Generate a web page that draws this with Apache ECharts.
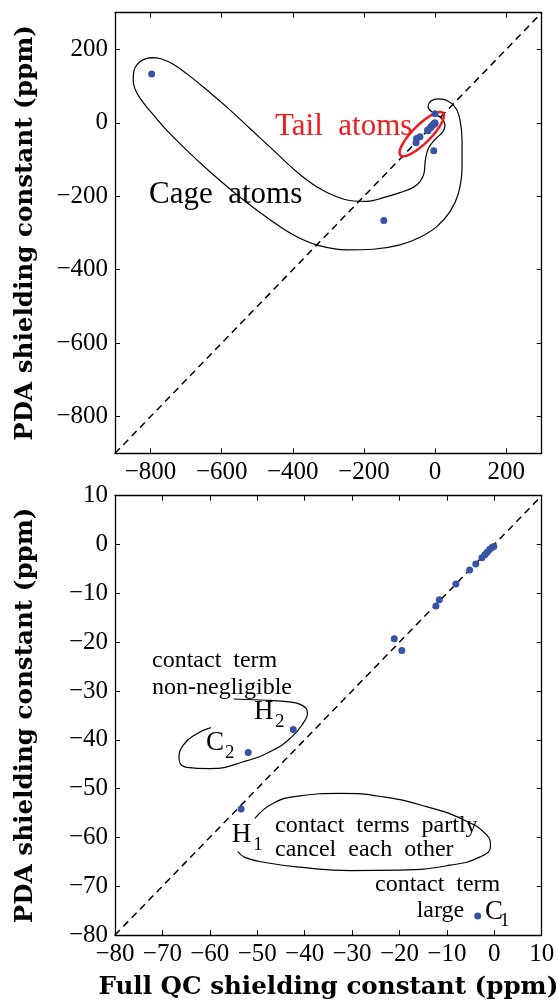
<!DOCTYPE html>
<html>
<head>
<meta charset="utf-8">
<script src="https://cdn.jsdelivr.net/npm/echarts@6/dist/echarts.min.js"></script>
<style>html,body{margin:0;padding:0;background:#fff}#c{width:558px;height:1005px}</style>
</head>
<body>
<div id="c"></div>
<script>
// ---- data (Full QC vs PDA shielding constants, ppm) ----
const fullQC = [-0.1, -0.5, -1.0, -1.5, -2.0, -2.6, -3.9, -5.2, -8.1, -11.6, -12.3, -21.1, -19.5, -42.4, -51.9, -53.4, -3.5];
const pda    = [-0.4, -0.6, -1.0, -1.6, -2.1, -2.7, -4.0, -5.2, -8.1, -11.3, -12.6, -19.3, -21.7, -37.9, -42.6, -54.2, -76.1];
// cage atoms with large shielding (only visible in the wide panel)
const cageQC  = [-797, -144, 0];
const cagePDA = [133, -266, 25];

const topTicks = [-800, -600, -400, -200, 0, 200];
const topRange = [-900, 300];
const botRange = [-80, 10];

// annotation outlines (data coordinates)
const cageOutline = [[-797.2,177.5],[-820.6,172.1],[-837.5,159.4],[-846.9,141.3],[-848.8,115.9],[-844.1,93.3],[-831.9,70.7],[-811.3,43.5],[-783.1,11.8],[-755,-19.9],[-698.7,-74.3],[-633.1,-133.2],[-567.4,-187.5],[-501.8,-237.3],[-436.1,-282.6],[-379.8,-314.3],[-323.6,-335.1],[-248.5,-346],[-173.5,-344.2],[-98.5,-332.4],[-42.2,-311.6],[4.7,-282.6],[42.2,-241.8],[65.7,-192],[76,-119.6],[76,-47.1],[70.3,7.2],[59.1,39],[37.5,58.9],[9.4,65.2],[-12.2,58.9],[-19.7,43.5],[-4.7,27.2],[18.8,11.8],[28.1,-6.3],[21.6,-24.5],[0,-45.3],[-18.8,-69.7],[-27.2,-101.4],[-31,-137.7],[-42.2,-160.3],[-61,-175.7],[-98.5,-190.2],[-145.4,-203.8],[-192.3,-213.8],[-229.8,-212.9],[-276.7,-201.1],[-333,-173.9],[-389.2,-133.2],[-454.9,-74.3],[-520.5,-15.4],[-586.2,43.5],[-651.8,97.8],[-698.7,134.1],[-736.2,159.4],[-769.1,173.9],[-797.2,177.5],[-820.6,172.1]];
// red ellipse around the tail atoms: centre (data), semi-axes and tilt (pixels / degrees)
const tailEllipse = { center: [-37.4, -30.8], rx: 30, ry: 9, angle: 45 };
const c2h2Outline = [[-55.0,-31.65],[-49.4,-31.86],[-43.8,-32.2],[-40.6,-32.9],[-39.4,-34.6],[-40.3,-36.6],[-42.7,-39.4],[-46.6,-42.1],[-52.9,-44.5],[-60,-45.9],[-64.9,-45.65],[-66.5,-43.8],[-65.6,-41.1],[-62.8,-38.8],[-59.8,-37.5]];
const h1Outline = [[-50.5,-56.1],[-46.6,-53.0],[-41.0,-51.5],[-32.5,-51.0],[-23.4,-51.7],[-14.3,-53.7],[-6.5,-56.4],[-1.6,-59.5],[-0.8,-61.8],[-3.0,-64.0],[-9.3,-65.7],[-19.9,-66.7],[-30.4,-66.8],[-41.0,-66.1],[-48.0,-65.2],[-52.6,-64.1],[-54.1,-62.9]];

const allPoints = fullQC.map((x, i) => [x, pda[i]]).concat(cageQC.map((x, i) => [x, cagePDA[i]]));

const SERIF = '"Liberation Serif", "Times New Roman", serif';
const BOLDSERIF = 'DejaVu Serif';
const fmt = v => (v < 0 ? '\u2212' + Math.abs(v) : String(v));
const lineAxis = { show: true, onZero: false, lineStyle: { color: '#000', width: 1.3 } };
const tick = { show: true, inside: true, length: 5, lineStyle: { color: '#000', width: 1 } };

function axisPair(kind, grid, range, custom, interval, name, gap) {
  const main = {
    type: 'value', gridIndex: grid, min: range[0], max: range[1],
    position: kind === 'x' ? 'bottom' : 'left',
    axisLine: lineAxis, splitLine: { show: false },
    axisTick: Object.assign({}, tick, custom ? { customValues: custom } : {}),
    axisLabel: Object.assign({ show: true, color: '#000', fontFamily: SERIF, fontSize: 25, fontWeight: 'normal',
      margin: 7, formatter: fmt, showMinLabel: true, showMaxLabel: true, hideOverlap: false },
      custom ? { customValues: custom } : {}),
  };
  if (interval) main.interval = interval;
  if (name) {
    Object.assign(main, { name: name, nameLocation: 'middle', nameGap: gap,
      nameTextStyle: { fontFamily: BOLDSERIF, fontWeight: 'bold', fontSize: 24.6, color: '#000' } });
  }
  const mirror = {
    type: 'value', gridIndex: grid, min: range[0], max: range[1],
    position: kind === 'x' ? 'top' : 'right',
    axisLine: lineAxis, splitLine: { show: false },
    axisTick: Object.assign({}, tick, custom ? { customValues: custom } : {}),
    axisLabel: { show: false },
  };
  if (interval) mirror.interval = interval;
  return [main, mirror];
}

const xAxes = axisPair('x', 0, topRange, topTicks, null, null, 0)
  .concat(axisPair('x', 1, botRange, null, 10, 'Full QC shielding constant (ppm)', 40));
const yAxes = axisPair('y', 0, topRange, topTicks, null, 'PDA shielding constant (ppm)', 77)
  .concat(axisPair('y', 1, botRange, null, 10, 'PDA shielding constant (ppm)', 77));

const BLUE = '#3953a4';
function outline(data, xi, color, width, smooth) {
  return { type: 'line', xAxisIndex: xi, yAxisIndex: xi, data: data, smooth: smooth, symbol: 'none',
    lineStyle: { color: color, width: width }, silent: true, z: 2, clip: true };
}
function txt(x, y, s, size, color) {
  return { type: 'text', x: x, y: y, z: 100, style: { text: s, font: size + 'px ' + SERIF, fill: color || '#000', align: 'left', verticalAlign: 'middle' } };
}

const ellipseSeries = {
  type: 'custom', xAxisIndex: 0, yAxisIndex: 0, silent: true, z: 3,
  data: [tailEllipse.center],
  renderItem: function (params, api) {
    const c = api.coord([api.value(0), api.value(1)]);
    const a = tailEllipse.angle * Math.PI / 180;
    const pts = [];
    for (let k = 0; k < 72; k++) {
      const t = k / 72 * 2 * Math.PI;
      const ex = tailEllipse.rx * Math.cos(t), ey = tailEllipse.ry * Math.sin(t);
      pts.push([c[0] + ex * Math.cos(a) - ey * Math.sin(a), c[1] - ex * Math.sin(a) - ey * Math.cos(a)]);
    }
    return { type: 'polygon', shape: { points: pts }, style: { fill: null, stroke: '#ee1c1c', lineWidth: 2.5 } };
  }
};

const option = {
  animation: false,
  backgroundColor: '#fff',
  textStyle: { fontFamily: SERIF },
  grid: [
    { left: 115, top: 12.7, width: 426.7, height: 440.6, outerBoundsMode: 'none', containLabel: false },
    { left: 115, top: 495.7, width: 426.7, height: 439.3, outerBoundsMode: 'none', containLabel: false }
  ],
  xAxis: xAxes,
  yAxis: yAxes,
  series: [
    { type: 'line', xAxisIndex: 0, yAxisIndex: 0, data: [[topRange[0], topRange[0]], [topRange[1], topRange[1]]], symbol: 'none',
      lineStyle: { color: '#000', width: 1.5, type: [7, 5] }, silent: true, z: 1 },
    { type: 'line', xAxisIndex: 2, yAxisIndex: 2, data: [[botRange[0], botRange[0]], [botRange[1], botRange[1]]], symbol: 'none',
      lineStyle: { color: '#000', width: 1.5, type: [7, 5] }, silent: true, z: 1 },
    outline(cageOutline, 0, '#000', 1.2, 0.4),
    ellipseSeries,
    outline(c2h2Outline, 2, '#000', 1.2, 0.5),
    outline(h1Outline, 2, '#000', 1.2, 0.5),
    { type: 'scatter', xAxisIndex: 0, yAxisIndex: 0, data: allPoints, symbolSize: 7, itemStyle: { color: BLUE, opacity: 1 }, z: 5, clip: true },
    { type: 'scatter', xAxisIndex: 2, yAxisIndex: 2, data: allPoints, symbolSize: 7, itemStyle: { color: BLUE, opacity: 1 }, z: 5, clip: true }
  ],
  graphic: [
    txt(275, 127, 'Tail  atoms', 31, '#ee1c1c'),
    txt(149, 195, 'Cage  atoms', 31),
    txt(152, 661, 'contact  term', 24),
    txt(152, 688, 'non-negligible', 24),
    txt(254, 712, 'H', 27), txt(275, 722, '2', 19),
    txt(206, 743, 'C', 27), txt(225, 753, '2', 19),
    txt(231.7, 834.7, 'H', 27), txt(253.3, 844.7, '1', 19),
    txt(275, 826, 'contact  terms  partly', 24),
    txt(275, 850, 'cancel  each  other', 24),
    txt(375, 885, 'contact  term', 24),
    txt(416.7, 911, 'large', 24),
    txt(485, 912, 'C', 27), txt(500, 920.7, '1', 19)
  ]
};

const chart = echarts.init(document.getElementById('c'), null, { renderer: 'canvas' });
chart.setOption(option);
</script>
</body>
</html>
